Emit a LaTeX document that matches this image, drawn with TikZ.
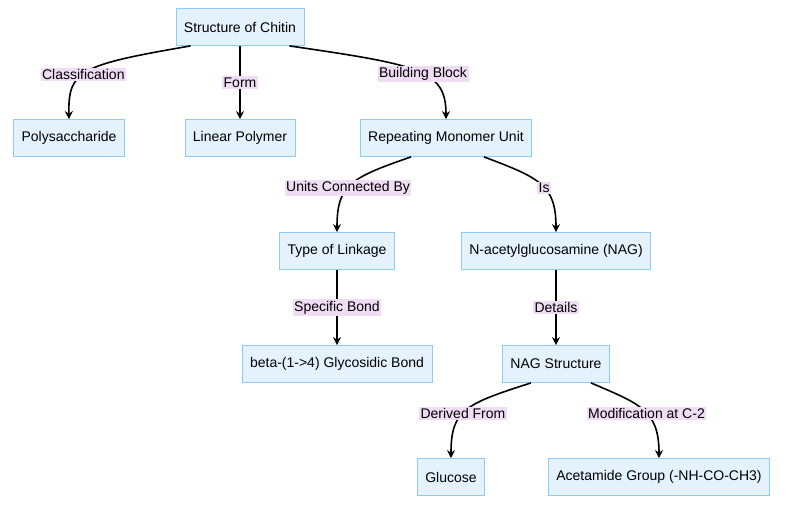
\documentclass[tikz,border=0pt]{standalone}
\usepackage{fontspec}
\setmainfont{Liberation Sans}
\usetikzlibrary{positioning, arrows.meta}
\definecolor{nodefill}{HTML}{E3F2FD}
\definecolor{nodeline}{HTML}{90CAF9}
\definecolor{lblfill}{HTML}{F0DCF5}

\begin{document}
\begin{tikzpicture}[
    x=1pt, y=-1pt,
    block/.style={rectangle, draw=nodeline, fill=nodefill, line width=0.8pt, minimum height=37pt, inner xsep=8pt, font=\fontsize{14}{16}\selectfont},
    lbl/.style={fill=lblfill, inner sep=1.5pt, font=\fontsize{14}{16}\selectfont},
    arrow/.style={line width=1.6pt, -{Stealth[length=8pt,width=8pt]}}
]
\useasboundingbox (0,0) rectangle (788,507);

\node[block] (chitin) at (240,27) {Structure of Chitin};
\node[block] (poly) at (69,138) {Polysaccharide};
\node[block] (linear) at (240,138) {Linear Polymer};
\node[block] (monomer) at (446,138) {Repeating Monomer Unit};
\node[block] (linkage) at (337,251) {Type of Linkage};
\node[block] (nag) at (556,251) {N-acetylglucosamine (NAG)};
\node[block] (bond) at (337,364) {beta-(1->4) Glycosidic Bond};
\node[block] (nagstruct) at (556,364) {NAG Structure};
\node[block] (glucose) at (451,477) {Glucose};
\node[block] (acet) at (659,477) {Acetamide Group (-NH-CO-CH3)};

% edges
\draw[arrow] (chitin.south west) ++(15,0) .. controls (80,65) and (68,70) .. node[lbl, pos=0.55] {Classification} (poly.north);
\draw[arrow] (chitin) -- node[lbl] {Form} (linear);
\draw[arrow] (chitin.south east) ++(-15,0) .. controls (420,65) and (446,70) .. node[lbl, pos=0.55] {Building Block} (monomer.north);
\draw[arrow] (monomer.south) ++(-35,0) .. controls (350,178) and (337,185) .. node[lbl, pos=0.55] {Units Connected By} (linkage.north);
\draw[arrow] (monomer.south) ++(38,0) .. controls (540,178) and (556,185) .. node[lbl, pos=0.55] {Is} (nag.north);
\draw[arrow] (linkage) -- node[lbl] {Specific Bond} (bond);
\draw[arrow] (nag) -- node[lbl] {Details} (nagstruct);
\draw[arrow] (nagstruct.south) ++(-25,0) .. controls (465,404) and (451,410) .. node[lbl, pos=0.55] {Derived From} (glucose.north);
\draw[arrow] (nagstruct.south) ++(35,0) .. controls (640,404) and (659,410) .. node[lbl, pos=0.55] {Modification at C-2} (acet.north);

\end{tikzpicture}
\end{document}
